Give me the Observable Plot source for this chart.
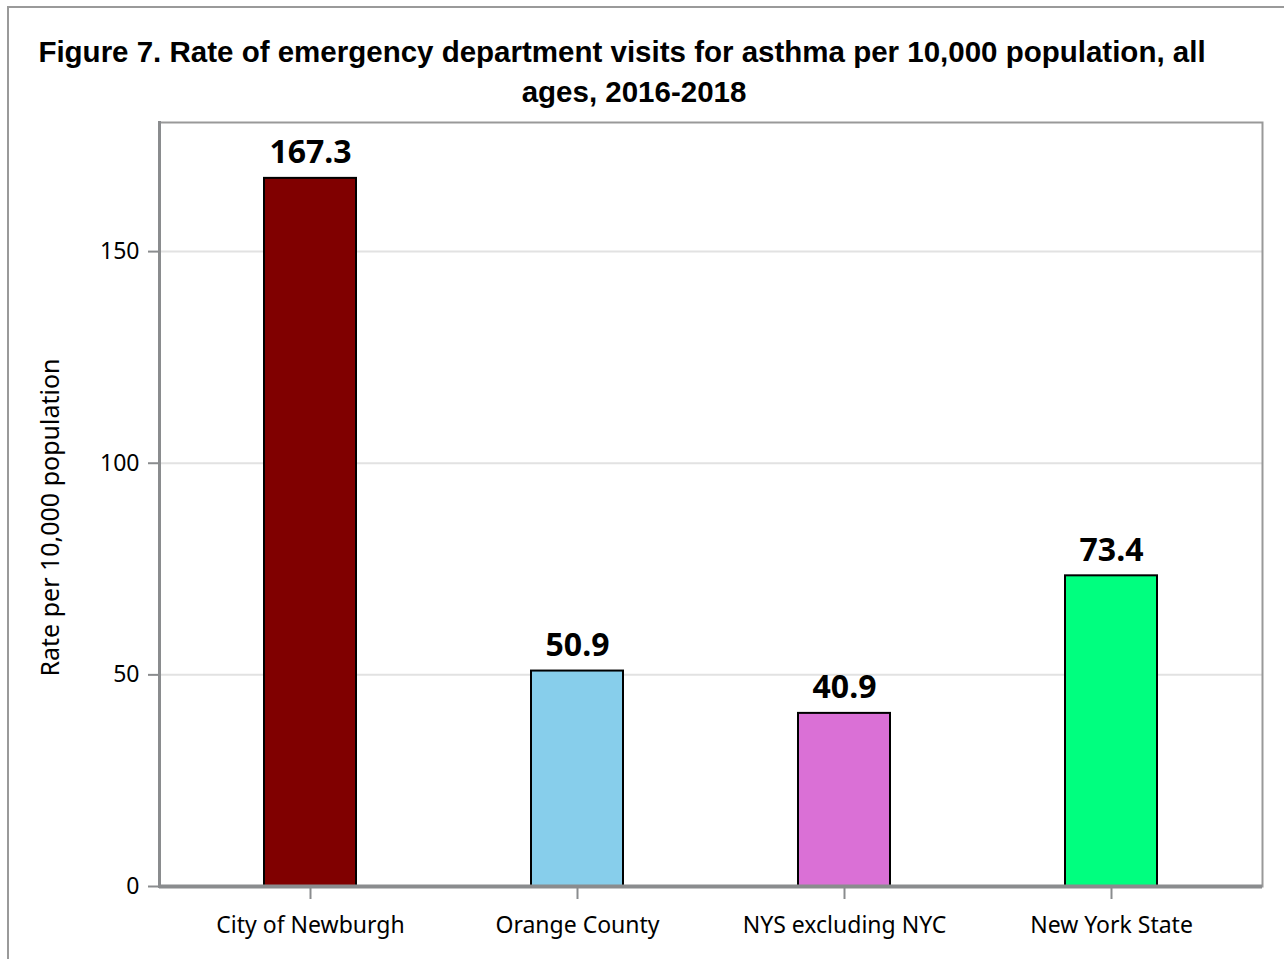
<!DOCTYPE html>
<html>
<head>
<meta charset="utf-8">
<script src="https://cdn.jsdelivr.net/npm/d3@7"></script>
<script src="https://cdn.jsdelivr.net/npm/@observablehq/plot@0.6"></script>
<style>
  html, body { margin: 0; padding: 0; background: #fff; overflow: hidden; }
  #wrap { position: relative; width: 1284px; height: 959px; }
  #border { position: absolute; left: 7px; top: 6px; width: 1320px; height: 1000px; border: 2px solid #9a9a9a; box-sizing: border-box; pointer-events: none; }
  #title { position: absolute; left: 14px; width: 1216px; top: 32px; text-align: center;
    font-family: "Liberation Sans", Arial, sans-serif; font-weight: bold; font-size: 29.5px; line-height: 40px; color: #000; }
  #title .l2 { position: relative; left: 12px; }
  #chart { position: absolute; left: 0; top: 0; }
</style>
</head>
<body>
<div id="wrap">
  <div id="chart"></div>
  <div id="title">Figure 7. Rate of emergency department visits for asthma per 10,000 population, all<br><span class="l2">ages, 2016-2018</span></div>
  <div id="border"></div>
</div>
<script>
const categories = ["City of Newburgh", "Orange County", "NYS excluding NYC", "New York State"];
const rates = [167.3, 50.9, 40.9, 73.4];
const colors = ["#800000", "#87CEEB", "#DA70D6", "#00FF7F"];
const yTicks = [0, 50, 100, 150];
const yLabel = "Rate per 10,000 population";

const data = categories.map((c, i) => ({category: c, rate: rates[i], color: colors[i]}));

const font = "'Noto Sans', 'Open Sans', sans-serif";

const plot = Plot.plot({
  width: 1284,
  height: 959,
  marginLeft: 159,
  marginRight: 22,
  marginTop: 122,
  marginBottom: 73,
  style: {fontFamily: font, fontSize: "23px", color: "#000", background: "transparent"},
  x: {domain: categories, paddingInner: 0.656, paddingOuter: 0.39, label: null},
  y: {domain: [0, 180.5], label: null},
  marks: [
    Plot.gridY(yTicks.filter(d => d > 0), {stroke: "#e2e2e2", strokeWidth: 2, strokeOpacity: 1}),
    Plot.frame({stroke: "#999", strokeWidth: 2}),
    Plot.barY(data, {x: "category", y: "rate", fill: "color", stroke: "#000", strokeWidth: 2}),
    Plot.text(data, {x: "category", y: "rate", text: d => d.rate.toFixed(1), lineAnchor: "bottom", dy: -15,
      fontSize: 32, fontWeight: "bold", fill: "#000"}),
    Plot.ruleY([0], {stroke: "#8a8c8e", strokeWidth: 4}),
    Plot.frame({anchor: "left", stroke: "#8a8c8e", strokeWidth: 3}),
    Plot.axisY({ticks: yTicks, tickSize: 11, tickPadding: 9, stroke: "#8a8c8e", strokeWidth: 2, label: null, fontSize: 23}),
    Plot.axisX({tickSize: 11, tickPadding: 17, stroke: "#8a8c8e", strokeWidth: 2, label: null, fontSize: 23, dy: 2}),
    Plot.text([yLabel], {frameAnchor: "left", textAnchor: "middle", rotate: -90, dx: -109, dy: 13, fontSize: 25, fill: "#000"})
  ]
});
document.getElementById("chart").appendChild(plot);
</script>
</body>
</html>
